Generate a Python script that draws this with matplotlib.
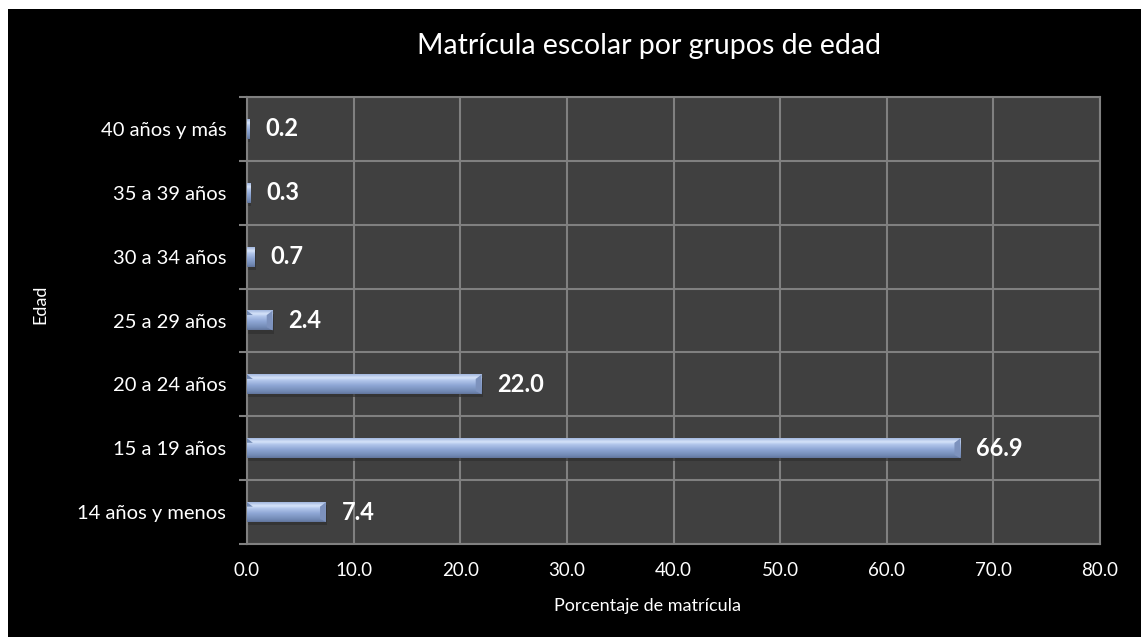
import numpy as np
import matplotlib.pyplot as plt
from matplotlib.patches import Rectangle, Polygon
from matplotlib.colors import LinearSegmentedColormap

plt.rcParams['font.family'] = ['Lato', 'DejaVu Sans']

categorias = ['14 años y menos', '15 a 19 años', '20 a 24 años', '25 a 29 años',
              '30 a 34 años', '35 a 39 años', '40 años y más']
porcentaje = [7.4, 66.9, 22.0, 2.4, 0.7, 0.3, 0.2]
xticks = [0, 10, 20, 30, 40, 50, 60, 70, 80]

fig = plt.figure(figsize=(11.41, 6.37), dpi=100, facecolor='white')
# black background with thin white margin top/left
fig.patches.append(Rectangle((8 / 1141, 0), 1, 1 - 9 / 637, transform=fig.transFigure,
                             facecolor='black', edgecolor='none', zorder=-10))

ax = fig.add_axes([247 / 1141, 93 / 637, 853 / 1141, 447 / 637])
ax.set_facecolor('#404040')

# bevel gradient for bars
bar_cmap = LinearSegmentedColormap.from_list('bevel', [
    (0.0, '#62759c'), (0.12, '#7189b4'), (0.45, '#90a8d6'),
    (0.7, '#b4c8ec'), (0.82, '#d8e5fa'), (0.92, '#b9cbeb'), (1.0, '#a2b7de')])
grad = np.linspace(0, 1, 64).reshape(-1, 1)

h = 0.31
bev = 0.55  # bevel width in data units
for i, v in enumerate(porcentaje):
    y0, y1 = i - h / 2, i + h / 2
    # soft shadow
    ax.add_patch(Rectangle((0, y0 - 0.05), v + 0.1, h, facecolor='#303030',
                           edgecolor='none', alpha=0.7, zorder=2))
    ax.imshow(grad, extent=[0, v, y0, y1], origin='lower', cmap=bar_cmap,
              aspect='auto', zorder=3, interpolation='bicubic')
    if v > 2 * bev:
        # darker bevel at the ends
        ax.add_patch(Polygon([(v, y0), (v, y1), (v - bev, y1 - 0.07), (v - bev, y0 + 0.05)],
                             facecolor='#7d92bd', edgecolor='none', zorder=4))
        ax.add_patch(Polygon([(0, y1), (bev, y1 - 0.07), (0, y1 - 0.07)],
                             facecolor='#7189b4', edgecolor='none', zorder=4))
    ax.annotate(f'{v:.1f}', (v, i), xytext=(11.5, 0), textcoords='offset points',
                ha='left', va='center', color='white', fontsize=17, fontweight='bold',
                zorder=5)

ax.set_xlim(0, 80)
ax.set_ylim(-0.5, len(categorias) - 0.5)
ax.set_xticks(xticks)
ax.set_xticklabels([f'{t:.1f}' for t in xticks], color='white', fontsize=13.5)
ax.set_yticks(range(len(categorias)))
ax.set_yticklabels(categorias, color='white', fontsize=14.5)
ax.set_yticks(np.arange(-0.5, len(categorias)), minor=True)

ax.tick_params(axis='y', which='major', length=0, pad=15)
ax.tick_params(axis='y', which='minor', length=6, color='#808080', width=1.5)
ax.tick_params(axis='x', which='major', length=0, pad=13)

ax.grid(True, axis='x', which='major', color='#808080', linewidth=1.5, zorder=1)
ax.grid(True, axis='y', which='minor', color='#808080', linewidth=1.5, zorder=1)
ax.set_axisbelow(True)
for s in ax.spines.values():
    s.set_color('#808080')
    s.set_linewidth(1.5)

fig.text(648 / 1141, 1 - 606 / 637, 'Porcentaje de matrícula', color='white',
         fontsize=13, ha='center', va='center')
fig.text(40 / 1141, 1 - 304 / 637, 'Edad', color='white', fontsize=13,
         rotation=90, ha='center', va='center')

fig.text(649 / 1141, 1 - 46 / 637, 'Matrícula escolar por grupos de edad', color='white',
         fontsize=20.5, ha='center', va='center')

fig.savefig('out.png', dpi=100, facecolor=fig.get_facecolor())
